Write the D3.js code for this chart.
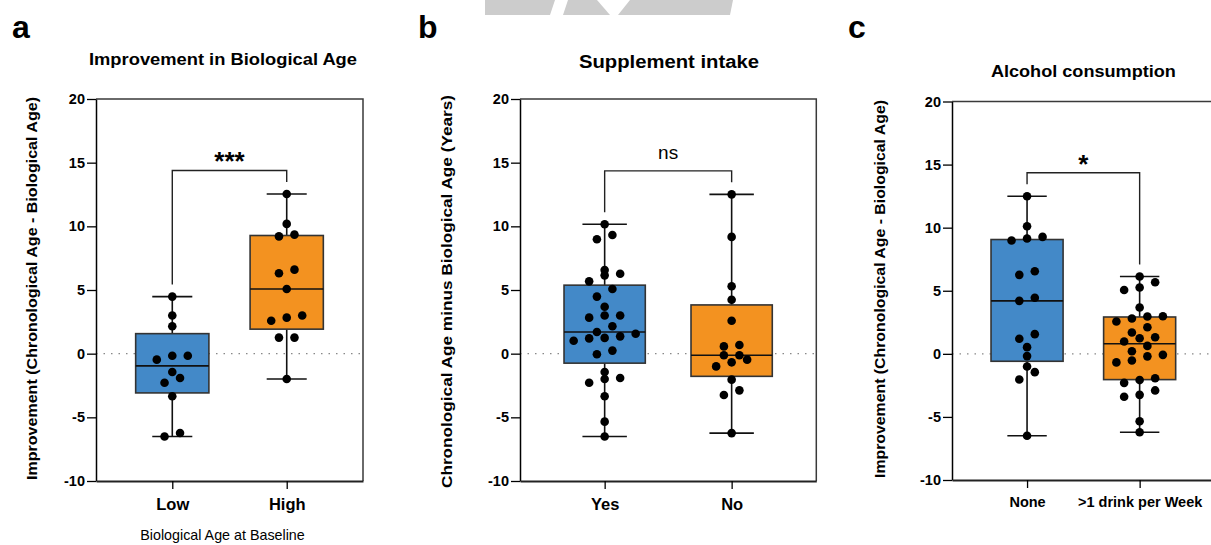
<!DOCTYPE html>
<html>
<head>
<meta charset="utf-8">
<script src="https://cdn.jsdelivr.net/npm/d3@7"></script>
<style>
  body { margin: 0; background: #fff; }
  text { font-family: "Liberation Sans", Arial, Helvetica, sans-serif; }
</style>
</head>
<body>
<div id="chart"></div>
<script>
// ---- data ----
var lowVals   = [4.48, 3.0, 2.15, -0.16, -0.47, -0.16, -1.91, -1.44, -2.28, -3.35, -6.5, -6.23];
var highVals  = [12.54, 10.19, 9.21, 9.35, 6.6, 6.31, 5.08, 3.0, 2.59, 2.83, 1.26, 1.26, -1.99];
var yesVals   = [10.16, 9.32, 8.98, 6.28, 6.57, 6.15, 5.68, 5.08, 4.48, 3.69, 3.0, 2.83, 3.0, 2.15, 1.24,
                 1.36, 1.57, 1.70, 1.20, 1.02, 0.24, -0.05, -1.44, -1.91, -1.99, -2.28, -3.35, -5.34, -6.5];
var noVals    = [12.51, 9.17, 5.29, 4.24, 2.59, 0.68, 0.57, -0.47, -0.13, -0.68, -0.13, -1.0, -2.04, -2.88, -3.25, -6.24];
var noneVals  = [12.49, 10.11, 9.14, 9.27, 8.98, 6.26, 6.55, 4.2, 4.44, 1.56, 1.19, 0.53, -0.18, -1.0, -1.45, -2.03, -6.49];
var drinkVals = [6.13, 5.67, 5.06, 5.26, 3.67, 2.98, 2.56, 2.80, 2.96, 2.11, 1.69, 1.32, 1.24, 0.98, 0.63,
                 -0.2, -0.08, 0.21, -0.53, -0.68, -1.93, -2.08, -2.3, -2.9, -3.4, -3.25, -5.35, -6.22];

var yTicks = [-10, -5, 0, 5, 10, 15, 20];
var panelLetters = ["a", "b", "c"];
var panelTitles = ["Improvement in Biological Age", "Supplement intake", "Alcohol consumption"];
var yTitles = ["Improvement (Chronological Age - Biological Age)",
               "Chronological Age minus Biological Age (Years)",
               "Improvement (Chronological Age - Biological Age)"];
var categories = [["Low", "High"], ["Yes", "No"], ["None", ">1 drink per Week"]];
var groupValues = [[lowVals, highVals], [yesVals, noVals], [noneVals, drinkVals]];
var sigLabels = ["***", "ns", "*"];
var xTitles = ["Biological Age at Baseline", "", ""];

var colors = ["#4389c8", "#f39220"];

// ---- layout ----
var layout = [
  {x0: 96,  x1: 363,    yTop: 99,    yBot: 481, letterX: 12,
   titleX: 223,  titleY: 65, titleSize: 16.5, titleLen: 268,
   yTitleX: 37, yTitleY: 288.5, yTitleSize: 14.5, yTitleLen: 383,
   catSize: 16.5, sigSize: 26, sigBold: true},
  {x0: 520, x1: 816.3,  yTop: 99,    yBot: 481, letterX: 418,
   titleX: 669,  titleY: 68, titleSize: 17.5, titleLen: 180,
   yTitleX: 452, yTitleY: 291.5, yTitleSize: 15, yTitleLen: 393,
   catSize: 16.5, sigSize: 19, sigBold: false},
  {x0: 952, x1: 1214.7, yTop: 101.5, yBot: 480, letterX: 848,
   titleX: 1083.4, titleY: 77, titleSize: 16.3, titleLen: 185,
   yTitleX: 885, yTitleY: 289, yTitleSize: 14.5, yTitleLen: 378,
   catSize: 14.5, sigSize: 26, sigBold: true}
];

var svg = d3.select("#chart").append("svg")
  .attr("width", 1211)
  .attr("height", 545);

// faint grey shape cut off at the top edge
svg.append("g").attr("fill", "#cccccc")
  .selectAll("polygon")
  .data([
    [[485, 0], [555, 0], [550, 15], [485, 15]],
    [[568, 0], [597, 0], [610, 15], [563, 15]],
    [[630, 0], [733, 0], [730, 15], [618, 15]]
  ])
  .enter().append("polygon")
  .attr("points", function(d) { return d.map(function(p) { return p.join(","); }).join(" "); });

// quartiles the way Prism does it ((n+1)p)
function quart(sorted, p) {
  var pos = (sorted.length + 1) * p - 1;
  var lo = Math.floor(pos), hi = Math.ceil(pos);
  lo = Math.max(0, Math.min(sorted.length - 1, lo));
  hi = Math.max(0, Math.min(sorted.length - 1, hi));
  return sorted[lo] + (sorted[hi] - sorted[lo]) * (pos - Math.floor(pos));
}

// simple row-based beeswarm
function swarm(vals, y, s, h) {
  var pts = vals.map(function(v) { return {v: v, py: y(v)}; })
    .sort(function(a, b) { return b.py - a.py; });
  var rows = [], cur = [];
  pts.forEach(function(p) {
    if (cur.length && Math.abs(p.py - cur[0].py) > h) { rows.push(cur); cur = []; }
    cur.push(p);
  });
  if (cur.length) rows.push(cur);
  rows.forEach(function(r) {
    r.forEach(function(p, i) { p.dx = (i - (r.length - 1) / 2) * s; });
  });
  return pts;
}

panelLetters.forEach(function(letter, pi) {
  var L = layout[pi];
  var g = svg.append("g");

  var y = d3.scaleLinear().domain([-10, 20]).range([L.yBot, L.yTop]);
  var x = d3.scalePoint().domain(categories[pi]).range([L.x0, L.x1]).padding(2 / 3);
  var step = x.step();

  // panel letter + title
  svg.append("text").attr("x", L.letterX).attr("y", 38)
    .style("font-size", "32px").style("font-weight", "bold").text(letter);
  svg.append("text").attr("x", L.titleX).attr("y", L.titleY)
    .attr("text-anchor", "middle")
    .attr("textLength", L.titleLen).attr("lengthAdjust", "spacingAndGlyphs")
    .style("font-size", L.titleSize + "px").style("font-weight", "bold").text(panelTitles[pi]);

  // frame: top and right
  g.append("path")
    .attr("d", "M" + L.x0 + "," + L.yTop + "H" + L.x1 + "V" + L.yBot)
    .attr("fill", "none").attr("stroke", "#3a3a3a").attr("stroke-width", 1.5);

  // dotted zero line
  g.append("line")
    .attr("x1", L.x0).attr("x2", L.x1).attr("y1", y(0)).attr("y2", y(0))
    .attr("stroke", "#888").attr("stroke-width", 1.3)
    .attr("stroke-dasharray", "1.5,6");

  // y axis
  var ya = g.append("g")
    .attr("transform", "translate(" + L.x0 + ",0)")
    .call(d3.axisLeft(y).tickValues(yTicks).tickFormat(function(d) { return String(d); })
      .tickSize(9).tickPadding(2).tickSizeOuter(0));
  ya.select(".domain").attr("stroke-width", 1.5);
  ya.selectAll(".tick line").attr("stroke-width", 1.3);
  ya.selectAll(".tick text").style("font-size", "14.5px").style("font-weight", "bold")
    .style("font-family", "'Liberation Sans', Arial, sans-serif").attr("fill", "#000");

  // x axis
  var xa = g.append("g")
    .attr("transform", "translate(0," + L.yBot + ")")
    .call(d3.axisBottom(x).tickSize(8).tickPadding(9).tickSizeOuter(0));
  xa.select(".domain").attr("stroke-width", 2.2).attr("stroke", "#222");
  xa.selectAll(".tick line").attr("stroke-width", 1.3);
  xa.selectAll(".tick text").style("font-size", L.catSize + "px").style("font-weight", "bold")
    .style("font-family", "'Liberation Sans', Arial, sans-serif").attr("fill", "#000");

  // y title
  g.append("text")
    .attr("transform", "translate(" + L.yTitleX + "," + L.yTitleY + ") rotate(-90)")
    .attr("text-anchor", "middle")
    .attr("textLength", L.yTitleLen).attr("lengthAdjust", "spacingAndGlyphs")
    .style("font-size", L.yTitleSize + "px").style("font-weight", "bold")
    .text(yTitles[pi]);

  if (xTitles[pi]) {
    g.append("text").attr("x", 222.5).attr("y", 540).attr("text-anchor", "middle")
      .style("font-size", "14.3px").text(xTitles[pi]);
  }

  // boxes
  var boxHalf = step * 0.32, capHalf = step * 0.175;
  var stats = groupValues[pi].map(function(vals, gi) {
    var s = vals.slice().sort(d3.ascending);
    return {cat: categories[pi][gi], min: s[0], max: s[s.length - 1],
            q1: quart(s, 0.25), med: quart(s, 0.5), q3: quart(s, 0.75), gi: gi, vals: vals};
  });

  var bx = g.selectAll(".box").data(stats).enter().append("g").attr("class", "box");
  // whiskers
  bx.append("line")
    .attr("x1", function(d) { return x(d.cat); }).attr("x2", function(d) { return x(d.cat); })
    .attr("y1", function(d) { return y(d.max); }).attr("y2", function(d) { return y(d.min); })
    .attr("stroke", "#111").attr("stroke-width", 1.6);
  ["max", "min"].forEach(function(k) {
    bx.append("line")
      .attr("x1", function(d) { return x(d.cat) - capHalf; })
      .attr("x2", function(d) { return x(d.cat) + capHalf; })
      .attr("y1", function(d) { return y(d[k]); }).attr("y2", function(d) { return y(d[k]); })
      .attr("stroke", "#111").attr("stroke-width", 1.6);
  });
  bx.append("rect")
    .attr("x", function(d) { return x(d.cat) - boxHalf; })
    .attr("width", boxHalf * 2)
    .attr("y", function(d) { return y(d.q3); })
    .attr("height", function(d) { return y(d.q1) - y(d.q3); })
    .attr("fill", function(d) { return colors[d.gi]; })
    .attr("stroke", "#333").attr("stroke-width", 1.6);
  bx.append("line")
    .attr("x1", function(d) { return x(d.cat) - boxHalf; })
    .attr("x2", function(d) { return x(d.cat) + boxHalf; })
    .attr("y1", function(d) { return y(d.med); }).attr("y2", function(d) { return y(d.med); })
    .attr("stroke", "#111").attr("stroke-width", 1.6);

  // dots
  stats.forEach(function(d) {
    var pts = swarm(d.vals, y, 15.5, 8);
    g.selectAll(null).data(pts).enter().append("circle")
      .attr("cx", function(p) { return x(d.cat) + p.dx; })
      .attr("cy", function(p) { return p.py; })
      .attr("r", 4.3)
      .attr("fill", "#000");
  });

  // significance bracket
  var topY = Math.min(y(stats[0].max), y(stats[1].max)) - 23.5;
  var xa0 = x(stats[0].cat), xb0 = x(stats[1].cat);
  g.append("path")
    .attr("d", "M" + xa0 + "," + (y(stats[0].max) - 12) + "V" + topY + "H" + xb0 + "V" + (y(stats[1].max) - 12))
    .attr("fill", "none").attr("stroke", "#222").attr("stroke-width", 1.4);
  g.append("text")
    .attr("x", (xa0 + xb0) / 2)
    .attr("y", L.sigBold ? topY : topY - 12)
    .attr("text-anchor", "middle")
    .style("font-size", L.sigSize + "px")
    .style("font-weight", L.sigBold ? "bold" : "normal")
    .text(sigLabels[pi]);
});
</script>
</body>
</html>
